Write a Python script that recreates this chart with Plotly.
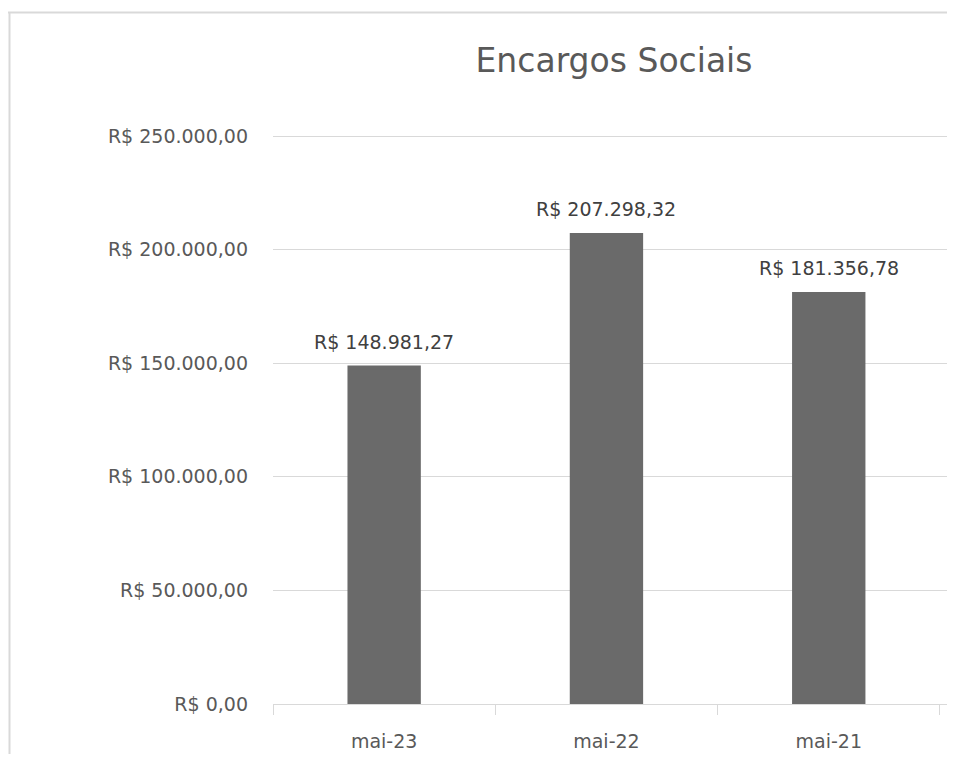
import plotly.graph_objects as go

categories = ["mai-23", "mai-22", "mai-21"]
values = [148981.27, 207298.32, 181356.78]
tick_vals = [0, 50000, 100000, 150000, 200000, 250000]
tick_text = ["R$ 0,00", "R$ 50.000,00", "R$ 100.000,00", "R$ 150.000,00",
             "R$ 200.000,00", "R$ 250.000,00"]
title = "Encargos Sociais"


def brl(v):
    s = f"{v:,.2f}"
    s = s.replace(",", "X").replace(".", ",").replace("X", ".")
    return "R$ " + s


labels = [brl(v) for v in values]

# page body has an 8px margin; figure sized so page fits 955x762
OFF = 8
W, H = 955 - 2 * OFF, 762 - 2 * OFF
L, R, T, B = 273 - OFF, 0, 127 - OFF, 762 - 704 - OFF
pw, ph = W - L - R, H - T - B
cat_px = 222.3
x_end = -0.5 + pw / cat_px
y_end = tick_vals[-1] * ph / (704 - 136)

font = "DejaVu Sans"
grid = "#d9d9d9"

fig = go.Figure(go.Bar(
    x=categories, y=values,
    marker=dict(color="#6a6a6a", line=dict(width=0)),
    width=0.33,
    hoverinfo="skip",
))

for c, v, t in zip(categories, values, labels):
    fig.add_annotation(x=c, y=v, text=t, showarrow=False, yshift=24,
                       yanchor="middle", xanchor="center",
                       font=dict(family=font, size=19, color="#404040"))


def px2paper_x(p):
    return (p - OFF - L) / pw


def px2paper_y(p):
    return (H - B - (p - OFF)) / ph


fig.update_layout(
    width=W, height=H,
    margin=dict(l=L, r=R, t=T, b=B, pad=0, autoexpand=False),
    paper_bgcolor="white", plot_bgcolor="white",
    showlegend=False,
    title=dict(text=title, x=px2paper_x(614), xref="paper", xanchor="center",
               y=1 - (60 - OFF) / H, yanchor="middle",
               font=dict(family=font, size=33, color="#595959")),
    xaxis=dict(
        type="category",
        range=[-0.5, x_end],
        tickson="boundaries",
        ticks="outside", ticklen=10, tickcolor=grid, tickwidth=1,
        showgrid=False,
        showline=True, linecolor=grid, linewidth=1,
        ticklabelstandoff=20,
        automargin=False,
        tickfont=dict(family=font, size=19, color="#595959"),
    ),
    yaxis=dict(
        range=[0, y_end],
        tickvals=tick_vals, ticktext=tick_text,
        showgrid=True, gridcolor=grid, gridwidth=1,
        zeroline=False,
        ticks="", ticklabelstandoff=24,
        automargin=False,
        tickfont=dict(family=font, size=19, color="#595959"),
    ),
    shapes=[
        dict(type="line", xref="paper", yref="paper",
             x0=px2paper_x(8), x1=px2paper_x(955), y0=px2paper_y(12.5), y1=px2paper_y(12.5),
             line=dict(color=grid, width=2)),
        dict(type="line", xref="paper", yref="paper",
             x0=px2paper_x(9.5), x1=px2paper_x(9.5), y0=px2paper_y(12), y1=px2paper_y(762),
             line=dict(color=grid, width=2)),
    ],
)

fig.write_html("out.html")
